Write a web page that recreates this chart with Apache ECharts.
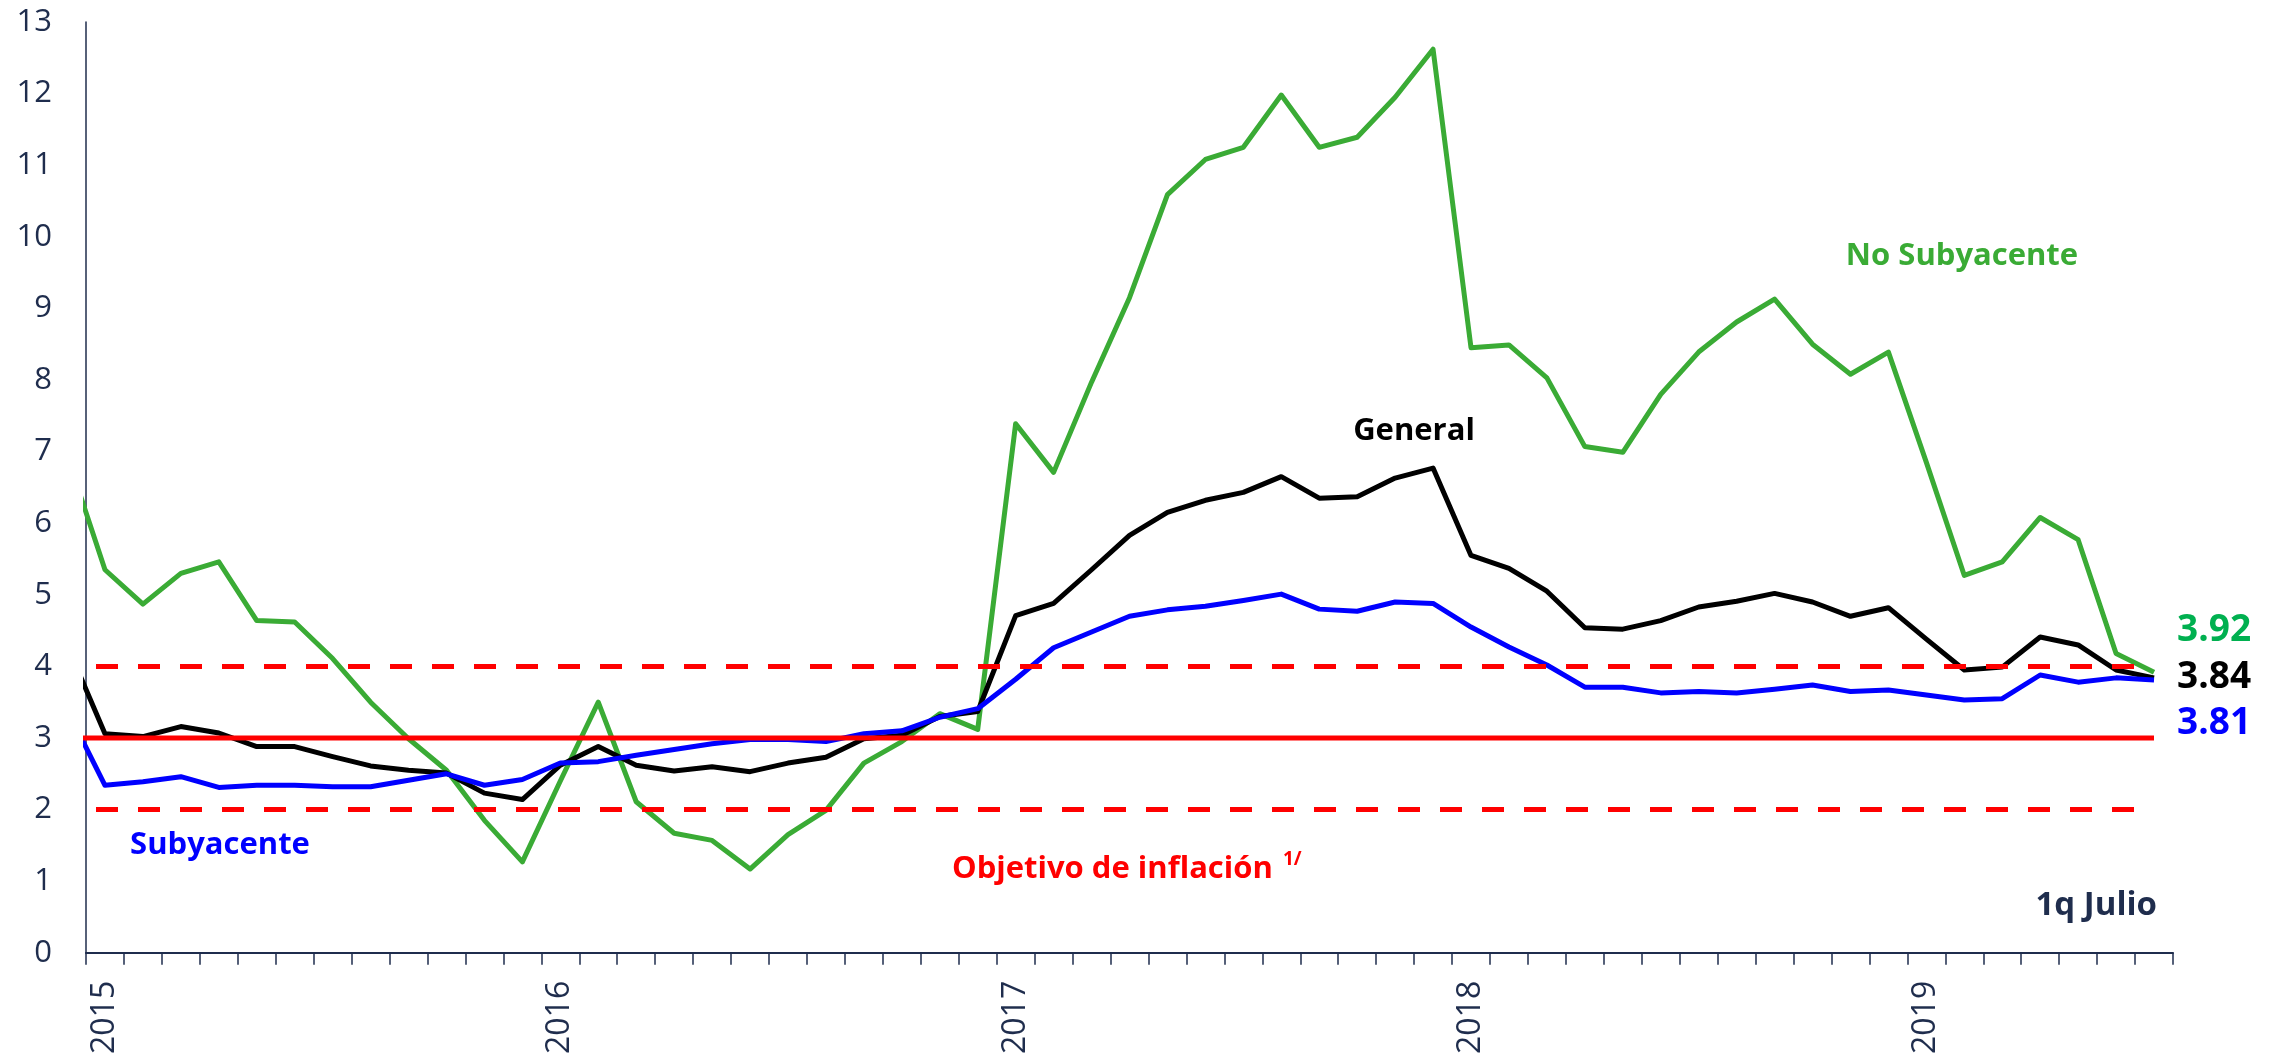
<!DOCTYPE html>
<html>
<head>
<meta charset="utf-8">
<script src="https://cdn.jsdelivr.net/npm/echarts@6/dist/echarts.min.js"></script>
<style>
  html, body { margin: 0; padding: 0; background: #fff; }
  #chart { width: 2277px; height: 1057px; }
</style>
</head>
<body>
<div id="chart"></div>
<script>
    const years = [2015, 2016, 2017, 2018, 2019];
    const lastMonth = 7; // 1q Julio 2019

    // category labels: one per month, Jan 2015 .. Jul 2019
    let months = [];
    years.forEach(y => {
        for (let m = 1; m <= 12; m++) {
            if (y === 2019 && m > lastMonth) break;
            months.push(y + '-' + (m < 10 ? '0' + m : m));
        }
    });
    // the series start one month earlier (Dec 2014), cut by the axis
    const dataMonths = ['2014-12'].concat(months);

    const noSubyacente = [6.95,
        5.35, 4.87, 5.30, 5.46, 4.64, 4.62, 4.11, 3.50, 2.99, 2.55, 1.85, 1.27,
        2.40, 3.50, 2.11, 1.67, 1.57, 1.17, 1.65, 1.99, 2.65, 2.95, 3.34, 3.12,
        7.39, 6.71, 7.97, 9.15, 10.59, 11.08, 11.25, 11.98, 11.25, 11.39, 11.95, 12.62,
        8.45, 8.49, 8.03, 7.07, 6.99, 7.80, 8.39, 8.81, 9.13, 8.50, 8.08, 8.39,
        6.85, 5.27, 5.46, 6.08, 5.77, 4.18, 3.92];

    const general = [4.30,
        3.06, 3.02, 3.16, 3.07, 2.88, 2.88, 2.74, 2.61, 2.55, 2.51, 2.23, 2.14,
        2.62, 2.88, 2.62, 2.54, 2.60, 2.53, 2.65, 2.73, 2.99, 3.04, 3.30, 3.37,
        4.71, 4.88, 5.35, 5.83, 6.15, 6.32, 6.43, 6.65, 6.35, 6.37, 6.63, 6.77,
        5.55, 5.37, 5.05, 4.54, 4.52, 4.64, 4.83, 4.91, 5.02, 4.90, 4.70, 4.82,
        4.38, 3.95, 3.99, 4.41, 4.30, 3.95, 3.84];

    const subyacente = [3.40,
        2.34, 2.39, 2.46, 2.31, 2.34, 2.34, 2.32, 2.32, 2.41, 2.50, 2.34, 2.42,
        2.65, 2.67, 2.76, 2.84, 2.92, 2.98, 2.98, 2.95, 3.06, 3.10, 3.29, 3.41,
        3.82, 4.26, 4.48, 4.70, 4.79, 4.84, 4.92, 5.01, 4.80, 4.77, 4.90, 4.88,
        4.55, 4.27, 4.02, 3.71, 3.71, 3.63, 3.65, 3.63, 3.68, 3.74, 3.65, 3.67,
        3.60, 3.53, 3.55, 3.88, 3.78, 3.84, 3.81];

    const target = 3;
    const targetLow = 2;
    const targetHigh = 4;

    const navy = '#1f2d4d';
    const green = '#3aab35';
    const font = '"Open Sans", sans-serif';

    // month i of dataMonths sits at the middle of its band on the value axis
    const pos = i => i - 0.5;
    const toPoints = arr => arr.map((v, i) => [pos(i), v]);
    const flat = v => dataMonths.map((m, i) => [pos(i), v]);

    const lineSeries = (name, values, color, labelColor, offsetY) => ({
        name: name,
        type: 'line',
        xAxisIndex: 1,
        data: toPoints(values),
        symbol: 'none',
        clip: true,
        lineStyle: {color: color, width: 5, join: 'round'},
        endLabel: {
            show: true,
            formatter: p => p.value[1].toFixed(2),
            offset: [15, offsetY],
            color: labelColor,
            fontFamily: font,
            fontWeight: 'bold',
            fontSize: 37
        }
    });

    const refLine = (values, dashed) => ({
        type: 'line',
        xAxisIndex: 1,
        data: values,
        symbol: 'none',
        clip: true,
        silent: true,
        lineStyle: {
            color: '#ff0000',
            width: 5,
            type: dashed ? [22, 20] : 'solid',
            dashOffset: dashed ? 13 : 0
        }
    });

    const txt = (text, x, y, color, align, size) => ({
        type: 'text',
        x: x,
        y: y,
        style: {
            text: text,
            fill: color,
            font: 'bold ' + (size || 31) + 'px ' + font,
            textAlign: align || 'center',
            textVerticalAlign: 'middle'
        }
    });

    let myChart = echarts.init(document.getElementById('chart'));
    let option = {
        animation: false,
        backgroundColor: '#fff',
        grid: {left: 86, right: 104, top: 22, bottom: 104},
        xAxis: [
            {
                type: 'category',
                data: months,
                boundaryGap: true,
                axisLine: {lineStyle: {color: navy, width: 2}},
                axisTick: {show: true, interval: 0, length: 12, lineStyle: {color: navy, width: 1.5}},
                axisLabel: {
                    interval: (i, v) => v.slice(5) === '01',
                    formatter: v => v.slice(0, 4),
                    rotate: 90,
                    margin: 28,
                    color: navy,
                    fontFamily: font,
                    fontSize: 32
                },
                splitLine: {show: false}
            },
            {
                type: 'value',
                min: 0,
                max: months.length,
                show: false
            }
        ],
        yAxis: {
            type: 'value',
            min: 0,
            max: 13,
            interval: 1,
            axisLine: {show: true, lineStyle: {color: navy, width: 1.5}},
            axisTick: {show: false},
            splitLine: {show: false},
            axisLabel: {color: navy, fontFamily: font, fontSize: 31, margin: 34}
        },
        series: [
            lineSeries('No Subyacente', noSubyacente, green, '#00b050', -42),
            lineSeries('General', general, '#000000', '#000000', 0),
            lineSeries('Subyacente', subyacente, '#0000ff', '#0000ff', 43),
            refLine(flat(target), false),
            refLine(flat(targetHigh), true),
            refLine(flat(targetLow), true)
        ],
        graphic: [
            txt('General', 1414, 431, '#000000'),
            txt('No Subyacente', 1962, 256, green),
            txt('Subyacente', 220, 845, '#0000ff'),
            txt('Objetivo de inflación', 952, 869, '#ff0000', 'left'),
            txt('1/', 1283, 860, '#ff0000', 'left', 19),
            txt('1q Julio', 2157, 906, navy, 'right', 33)
        ]
    };
    myChart.setOption(option);
</script>
</body>
</html>
